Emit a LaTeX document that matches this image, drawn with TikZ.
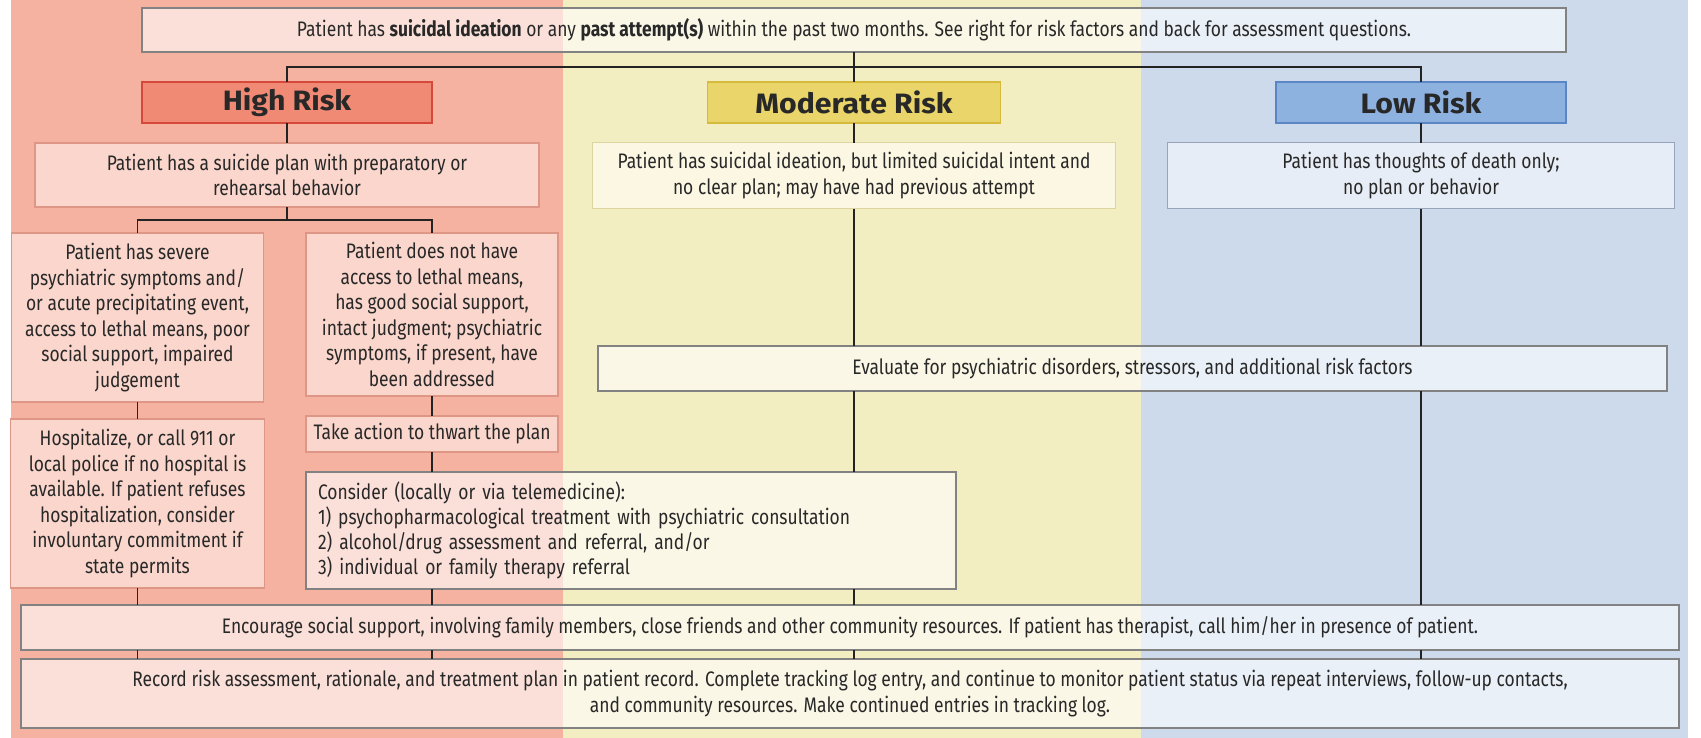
\documentclass[tikz,border=0pt]{standalone}
\usepackage{fontspec}
\setmainfont{Fira Sans}[FakeStretch=0.83]
\newfontfamily\hdfont{Fira Sans}[FakeStretch=1.08]
\usetikzlibrary{calc}
\definecolor{bandpink}{RGB}{246,178,160}
\definecolor{bandyel}{RGB}{243,237,194}
\definecolor{bandblue}{RGB}{204,218,236}
\definecolor{pinkfill}{RGB}{250,214,204}
\definecolor{pinkline}{RGB}{222,150,134}
\definecolor{hifill}{RGB}{241,138,117}
\definecolor{hiline}{RGB}{214,72,58}
\definecolor{modfill}{RGB}{233,213,106}
\definecolor{modline}{RGB}{214,186,60}
\definecolor{lowfill}{RGB}{142,178,224}
\definecolor{lowline}{RGB}{90,135,196}
\definecolor{yelfill}{RGB}{251,247,226}
\definecolor{yelline}{RGB}{222,212,160}
\definecolor{bluefill}{RGB}{231,237,246}
\definecolor{blueline}{RGB}{150,165,185}
\definecolor{greyline}{RGB}{130,130,130}
\definecolor{txt}{RGB}{40,40,40}
\definecolor{conn}{RGB}{35,35,35}
\begin{document}
\begin{tikzpicture}[x=0.5pt,y=-0.5pt,
  every node/.style={inner sep=0pt, outer sep=0pt, align=center, text=txt,
    font=\fontsize{10.5}{12.75}\selectfont},
  widebox/.style={draw=greyline, line width=0.6pt, fill=white, fill opacity=0.6, text opacity=1},
  pinkbox/.style={draw=pinkline, line width=0.7pt, fill=pinkfill},
  yelbox/.style={draw=yelline, line width=0.6pt, fill=yelfill},
  bluebox/.style={draw=blueline, line width=0.6pt, fill=bluefill},
  riskhead/.style={line width=0.8pt, minimum width=145pt, minimum height=20.5pt,
    font=\hdfont\bfseries\fontsize{14}{15}\selectfont},
  conn/.style={draw=conn, line width=0.75pt}]
% bounding box and bands
\useasboundingbox (0,0) rectangle (1701,738);
\fill[white] (0,0) rectangle (1701,738);
\fill[bandpink] (11,0) rectangle (563,738);
\fill[bandyel] (563,0) rectangle (1141,738);
\fill[bandblue] (1141,0) rectangle (1688,738);

% nodes
\node[widebox, minimum width=712pt, minimum height=22pt] (top) at (854,30)
  {Patient has \textbf{suicidal ideation} or any \textbf{past attempt(s)} within the past two months. See right for risk factors and back for assessment questions.};

\node[riskhead, draw=hiline, fill=hifill] (high) at (287,102.5) {High Risk};
\node[riskhead, draw=modline, fill=modfill, minimum width=146.5pt] (mod) at (854,102.5) {Moderate Risk};
\node[riskhead, draw=lowline, fill=lowfill] (low) at (1421,102.5) {Low Risk};

\node[pinkbox, minimum width=252pt, minimum height=32pt] (plan) at (287,175)
  {Patient has a suicide plan with preparatory or\\rehearsal behavior};
\node[yelbox, minimum width=261.5pt, minimum height=33pt] (modbox) at (854,175.5)
  {Patient has suicidal ideation, but limited suicidal intent and\\no clear plan; may have had previous attempt};
\node[bluebox, minimum width=253.5pt, minimum height=33pt] (lowbox) at (1421,175.5)
  {Patient has thoughts of death only;\\no plan or behavior};

\node[pinkbox, minimum width=126pt, minimum height=84.5pt] (severe) at (137.5,317.5)
  {Patient has severe\\psychiatric symptoms and/\\or acute precipitating event,\\access to lethal means, poor\\social support, impaired\\judgement};
\node[pinkbox, minimum width=126pt, minimum height=81.5pt] (nothave) at (432,314.5)
  {Patient does not have\\access to lethal means,\\has good social support,\\intact judgment; psychiatric\\symptoms, if present, have\\been addressed};
\node[pinkbox, minimum width=127pt, minimum height=84.5pt] (hosp) at (137.5,503.5)
  {Hospitalize, or call 911 or\\local police if no hospital is\\available. If patient refuses\\hospitalization, consider\\involuntary commitment if\\state permits};
\node[pinkbox, minimum width=126pt, minimum height=18pt] (thwart) at (432,434)
  {Take action to thwart the plan};
\node[widebox, align=left, text width=313pt, inner xsep=6pt, minimum height=58.5pt,
  font=\fontsize{10.5}{12.5}\selectfont] (consider) at (631,530.5)
  {Consider (locally or via telemedicine):\\1) psychopharmacological treatment with psychiatric consultation\\2) alcohol/drug assessment and referral, and/or\\3) individual or family therapy referral};

\node[widebox, minimum width=534.5pt, minimum height=22.5pt] (eval) at (1132.5,368.5)
  {Evaluate for psychiatric disorders, stressors, and additional risk factors};

\node[widebox, minimum width=829pt, minimum height=22.5pt] (enc) at (850,627.5)
  {Encourage social support, involving family members, close friends and other community resources. If patient has therapist, call him/her in presence of patient.};
\node[widebox, minimum width=829pt, minimum height=34.5pt] (rec) at (850,693.5)
  {Record risk assessment, rationale, and treatment plan in patient record. Complete tracking log entry, and continue to monitor patient status via repeat interviews, follow-up contacts,\\and community resources. Make continued entries in tracking log.};

% junctions
\coordinate (j1) at (854,67);
\coordinate (j2) at (287,220);

% connectors
\draw[conn] (top.south) -- (j1);
\draw[conn] (high.north) |- (j1) -| (low.north);
\draw[conn] (mod.north) -- (mod.north |- j1);
\draw[conn] (high.south) -- (high.south |- plan.north);
\draw[conn] (mod.south) -- (mod.south |- modbox.north);
\draw[conn] (low.south) -- (low.south |- lowbox.north);
\draw[conn] (plan.south) -- (j2);
\draw[conn] (severe.north) |- (j2) -| (nothave.north);
\draw[conn] (severe.south) -- (severe.south |- hosp.north);
\draw[conn] (nothave.south) -- (nothave.south |- thwart.north);
\draw[conn] (thwart.south) -- (thwart.south |- consider.north);
\draw[conn] (modbox.south) -- (modbox.south |- eval.north);
\draw[conn] (lowbox.south) -- (lowbox.south |- eval.north);
\draw[conn] (eval.south -| modbox.south) -- (consider.north -| modbox.south);
\draw[conn] (eval.south -| lowbox.south) -- (enc.north -| lowbox.south);
\draw[conn] (hosp.south) -- (hosp.south |- enc.north);
\draw[conn] (consider.south -| thwart.south) -- (enc.north -| thwart.south);
\draw[conn] (consider.south -| modbox.south) -- (enc.north -| modbox.south);
\draw[conn] (enc.south -| hosp.south) -- (rec.north -| hosp.south);
\draw[conn] (enc.south -| thwart.south) -- (rec.north -| thwart.south);
\draw[conn] (enc.south -| modbox.south) -- (rec.north -| modbox.south);
\draw[conn] (enc.south -| lowbox.south) -- (rec.north -| lowbox.south);
\end{tikzpicture}
\end{document}
